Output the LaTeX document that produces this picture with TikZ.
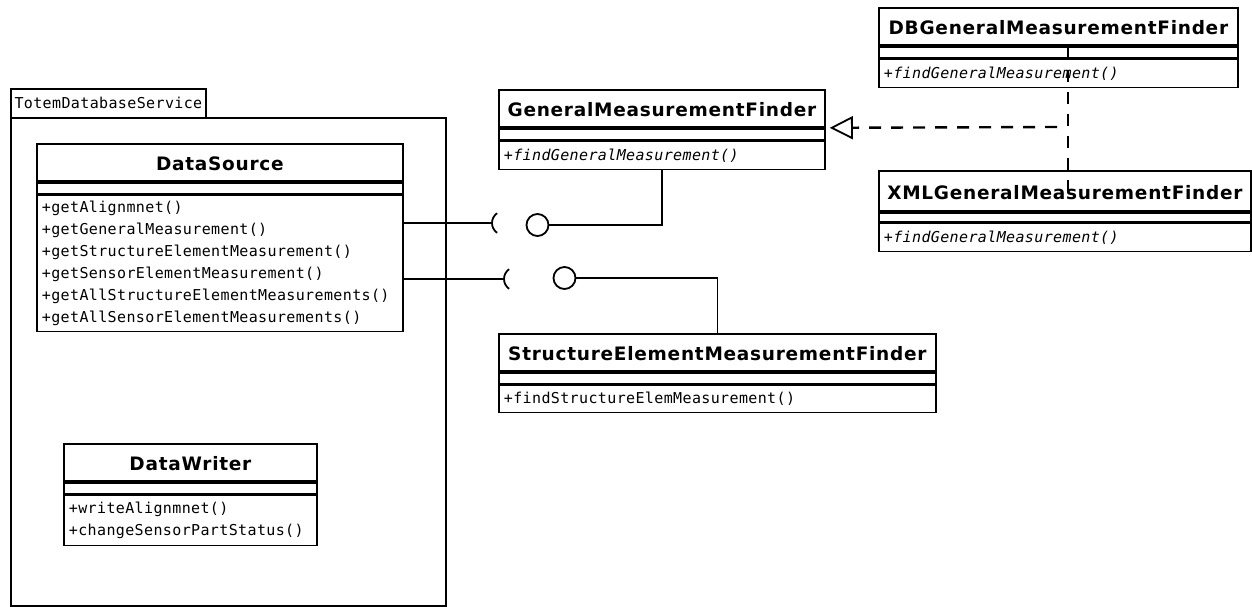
\documentclass[tikz,border=0pt]{standalone}
\usepackage{fontspec}
\usetikzlibrary{arrows.meta,positioning}
\setmainfont{DejaVu Sans}
\newfontfamily\clsfont[LetterSpace=4]{DejaVu Sans}
\newfontfamily\opsfont[LetterSpace=2.5]{DejaVu Sans Mono}

\begin{document}
\begin{tikzpicture}[x=1pt,y=-1pt,line width=1.8pt,node distance=0pt]
    \tikzset{
      clsname/.style={draw,fill=white,minimum height=37pt,inner sep=0pt,text height=17pt,text depth=0pt,font=\clsfont\bfseries\fontsize{18.5}{22}\selectfont},
      clsattr/.style={draw,fill=white,minimum height=11pt,inner sep=0pt},
      clsops/.style={draw,fill=white,align=left,inner xsep=5pt,inner ysep=0pt,font=\opsfont\fontsize{15}{22}\selectfont},
      pkg/.style={draw,inner sep=0pt,anchor=north west,font=\opsfont\fontsize{15}{22}\selectfont},
      ball/.style={draw,circle,minimum size=22pt,inner sep=0pt},
      realize/.style={line width=2.4pt,dash pattern=on 12pt off 10pt}
    }
    \useasboundingbox (0,0) rectangle (1252,607);

    % package with its tab
    \node[pkg,minimum width=195pt,minimum height=29pt] (svc-tab) at (10,88) {TotemDatabaseService};
    \node[pkg,minimum width=435pt,minimum height=488pt] (svc) at (10,117) {};

    % classes inside the package
    \node[clsname,minimum width=366pt,anchor=north west] (ds) at (36,143) {DataSource};
    \node[clsattr,minimum width=366pt,below=of ds] (ds-attr) {};
    \node[clsops,text width=356pt,minimum height=136pt,below=of ds-attr] (ds-ops) {+getAlignmnet()\\+getGeneralMeasurement()\\+getStructureElementMeasurement()\\+getSensorElementMeasurement()\\+getAllStructureElementMeasurements()\\+getAllSensorElementMeasurements()};

    \node[clsname,minimum width=253pt,anchor=north west] (dw) at (63,443) {DataWriter};
    \node[clsattr,minimum width=253pt,below=of dw] (dw-attr) {};
    \node[clsops,text width=243pt,minimum height=50pt,below=of dw-attr] (dw-ops) {+writeAlignmnet()\\+changeSensorPartStatus()};

    % finder interfaces
    \node[clsname,minimum width=326pt,anchor=north west] (gmf) at (498,89) {GeneralMeasurementFinder};
    \node[clsattr,minimum width=326pt,below=of gmf] (gmf-attr) {};
    \node[clsops,text width=316pt,minimum height=28pt,below=of gmf-attr] (gmf-ops) {\itshape +findGeneralMeasurement()};

    \node[clsname,minimum width=437pt,anchor=north west] (semf) at (498,333) {StructureElementMeasurementFinder};
    \node[clsattr,minimum width=437pt,below=of semf] (semf-attr) {};
    \node[clsops,text width=427pt,minimum height=27pt,below=of semf-attr] (semf-ops) {+findStructureElemMeasurement()};

    % implementations
    \node[clsname,minimum width=359pt,anchor=north west] (db) at (878,7) {DBGeneralMeasurementFinder};
    \node[clsattr,minimum width=359pt,below=of db] (db-attr) {};
    \node[clsops,text width=349pt,minimum height=28pt,below=of db-attr] (db-ops) {\itshape +findGeneralMeasurement()};

    \node[clsname,minimum width=372pt,minimum height=40pt,anchor=north west] (xml) at (878,170) {XMLGeneralMeasurementFinder};
    \node[clsattr,minimum width=372pt,minimum height=9pt,below=of xml] (xml-attr) {};
    \node[clsops,text width=362pt,minimum height=28pt,below=of xml-attr] (xml-ops) {\itshape +findGeneralMeasurement()};

    % realization
    \coordinate (impl-top) at (1068,48);
    \coordinate (impl-mid) at (1057,127);
    \coordinate (impl-bot) at (1068,196);
    \draw[realize] (impl-top) -- (impl-bot);
    \draw[realize,-{Triangle[open,length=23pt,width=23pt,line width=1.8pt]}] (impl-mid) -- ([xshift=4pt]gmf.south east);

    % required / provided interfaces
    \coordinate (gmf-sock) at (492,223);
    \coordinate (semf-sock) at (504,279);
    \node[ball] (gmf-ball) at (537.5,225) {};
    \node[ball] (semf-ball) at (564.5,278) {};
    \draw (ds-ops.east |- gmf-sock) -- (gmf-sock) arc[start angle=180,end angle=125,radius=12pt]
      (gmf-sock) arc[start angle=180,end angle=235,radius=12pt];
    \draw (ds-ops.east |- semf-sock) -- (semf-sock) arc[start angle=180,end angle=125,radius=12pt]
      (semf-sock) arc[start angle=180,end angle=235,radius=12pt];
    \draw (gmf-ball) -| (gmf-ops.south);
    \draw (semf-ball) -| (semf.north);
\end{tikzpicture}
\end{document}
